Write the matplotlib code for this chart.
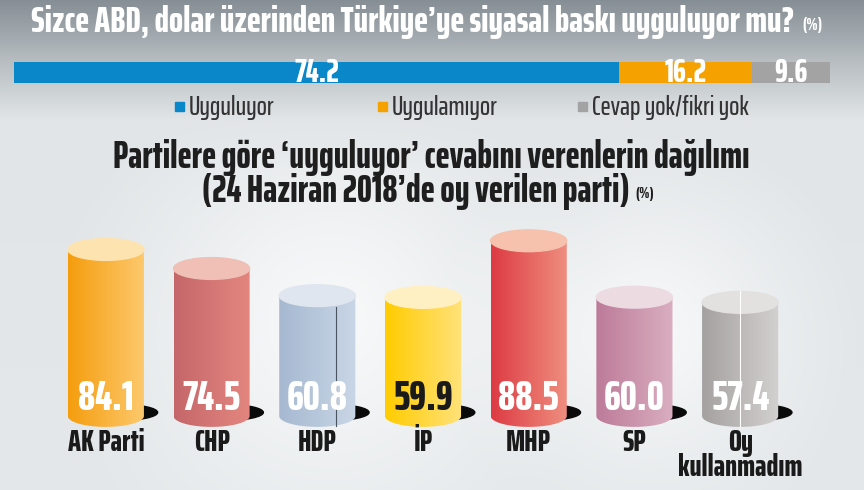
import numpy as np
import matplotlib
matplotlib.use('Agg')
import matplotlib.pyplot as plt
from matplotlib.patches import Ellipse, PathPatch, Rectangle
from matplotlib.path import Path

plt.rcParams['font.family'] = ['Saira ExtraCondensed', 'DejaVu Sans']
HEAVY = 800

# top question
answers = ['Uyguluyor', 'Uygulamıyor', 'Cevap yok/fikri yok']
answer_vals = [74.2, 16.2, 9.6]
answer_colors = ['#0a87c9', '#f5a100', '#a3a3a3']

# parties
parties = ['AK Parti', 'CHP', 'HDP', 'İP', 'MHP', 'SP', 'Oy\nkullanmadım']
party_vals = [84.1, 74.5, 60.8, 59.9, 88.5, 60.0, 57.4]
# left / right / top colours of each cylinder
cyl_left = ['#f59d0e', '#c5676a', '#a6b9d1', '#ffcc00', '#dd3b43', '#bd7b99', '#a5a1a1']
cyl_right = ['#fdc96e', '#e4867f', '#c9d6e6', '#ffe27a', '#ef8f80', '#d9aec0', '#d3d0d0']
cyl_top = ['#fde3b0', '#f0bfb6', '#dfe6ef', '#fff0c4', '#f6c2ad', '#eddbe2', '#e3e0e0']
val_colors = ['white', 'white', 'white', '#1a1a1a', 'white', 'white', 'white']

W, H = 864, 490
fig = plt.figure(figsize=(W / 100, H / 100), dpi=100)


def hex2rgb(h):
    return np.array([int(h[i:i + 2], 16) for i in (1, 3, 5)]) / 255.0


# background: dark band on top, light grey below with soft white glows
yy, xx = np.mgrid[0:H, 0:W].astype(float)
stops_y = [0, 60, 120, H]
stops_c = [hex2rgb('#858e94'), hex2rgb('#b6bcc0'), hex2rgb('#e1e5e7'), hex2rgb('#e4e8ea')]
bg = np.zeros((H, W, 3))
for k in range(3):
    bg[..., k] = np.interp(yy, stops_y, [c[k] for c in stops_c])
for gx, gy, R, a in [(330, 320, 270, 0.8), (650, 330, 210, 0.75)]:
    r = np.hypot(xx - gx, yy - gy)
    g = np.clip(1 - r / R, 0, 1) ** 1.1 * a * np.clip((yy - 110) / 60, 0, 1)
    bg = bg * (1 - g[..., None]) + g[..., None]

bax = fig.add_axes([0, 0, 1, 1])
bax.imshow(bg, extent=[0, W, H, 0], aspect='auto')
bax.set_xlim(0, W)
bax.set_ylim(H, 0)
bax.axis('off')

renderer = fig.canvas.get_renderer()


def fit(t, width_px):
    bb = t.get_window_extent(renderer)
    t.set_fontsize(t.get_fontsize() * width_px / bb.width)
    return t.get_fontsize()


def right_edge(t):
    return t.get_window_extent(renderer).x1


t = bax.text(31, 22, 'Sizce ABD, dolar üzerinden Türkiye’ye siyasal baskı uyguluyor mu?',
             color='white', fontsize=22, fontweight=HEAVY, ha='left', va='center')
fit(t, 763)
bax.text(right_edge(t) + 8, 25, '(%)', color='white', fontsize=12, fontweight=HEAVY,
         ha='left', va='center')

# stacked bar
sax = fig.add_axes([14 / W, 1 - 83 / H, 816 / W, 21 / H])
probe = sax.text(0, 0, '74.2', fontsize=17, fontweight=HEAVY)
bar_fs = fit(probe, 45)
probe.remove()
left = 0
for v, c in zip(answer_vals, answer_colors):
    sax.barh(0, v, left=left, color=c, height=1)
    sax.text(left + v / 2, 0.0, f'{v:.1f}', color='white', fontsize=bar_fs, fontweight=HEAVY,
             ha='center', va='center')
    left += v
sax.set_xlim(0, 100)
sax.set_ylim(-0.5, 0.5)
sax.axis('off')

# legend
probe = bax.text(0, 0, answers[0], fontsize=15, fontweight=500)
leg_fs = fit(probe, 85)
probe.remove()
for lx, lab, c in zip([175, 378, 578], answers, answer_colors):
    bax.add_patch(Rectangle((lx, 102), 9, 9, color=c))
    bax.text(lx + 14, 107, lab, color='#333333', fontsize=leg_fs, fontweight=500,
             ha='left', va='center')

t = bax.text(113, 157, 'Partilere göre ‘uyguluyor’ cevabını verenlerin dağılımı',
             color='#1e1e1e', fontsize=20, fontweight=HEAVY, ha='left', va='center')
fit(t, 638)
t = bax.text(202, 191, '(24 Haziran 2018’de oy verilen parti)',
             color='#1e1e1e', fontsize=20, fontweight=HEAVY, ha='left', va='center')
fit(t, 429)
bax.text(right_edge(t) + 6, 194, '(%)', color='#1e1e1e', fontsize=11, fontweight=HEAVY,
         ha='left', va='center')

# cylinders
px_per_unit = 1.98
zero_px = 416
ymin, ymax = -20, 100
ax = fig.add_axes([53 / W, 1 - (zero_px - ymin * px_per_unit) / H, 740 / W,
                   (ymax - ymin) * px_per_unit / H])
ax.set_xlim(-0.5, 6.5)
ax.set_ylim(ymin, ymax)
ax.axis('off')

probe = ax.text(0, 0, '84.1', fontsize=25, fontweight=HEAVY)
val_fs = fit(probe, 56)
probe.remove()
probe = ax.text(0, 0, parties[0], fontsize=16, fontweight=HEAVY)
cat_fs = fit(probe, 77)
probe.remove()

bw = 0.72
eh = 11.0
theta = np.linspace(np.pi, 2 * np.pi, 60)
for i, (name, v) in enumerate(zip(parties, party_vals)):
    x0, x1 = i - bw / 2, i + bw / 2
    # shadow
    ax.add_patch(Ellipse((i + 0.14, 1.8), 0.7, 8.0, color='#0a0a0a', zorder=1))
    # body with horizontal gradient, clipped to cylinder outline
    arc = np.column_stack([i + bw / 2 * np.cos(theta), eh / 2 * np.sin(theta)])
    verts = np.vstack([[x0, v], arc, [x1, v], [x0, v]])
    codes = [Path.MOVETO] + [Path.LINETO] * (len(verts) - 2) + [Path.CLOSEPOLY]
    patch = PathPatch(Path(verts, codes), facecolor='none', edgecolor='none', zorder=2)
    ax.add_patch(patch)
    grad = np.linspace(0, 1, 100)
    cl, cr = hex2rgb(cyl_left[i]), hex2rgb(cyl_right[i])
    img = (cl[None, :] * (1 - grad[:, None]) + cr[None, :] * grad[:, None])[None, :, :]
    im = ax.imshow(img, extent=[x0, x1, -eh / 2, v], aspect='auto', zorder=2,
                   interpolation='bilinear')
    im.set_clip_path(patch)
    # top cap
    ax.add_patch(Ellipse((i, v), bw, eh, color=cyl_top[i], zorder=3))
    ax.text(i, 9.3, f'{v:.1f}', color=val_colors[i], fontsize=val_fs, fontweight=HEAVY,
            ha='center', va='center', zorder=4)
    ax.text(i, -6.0, name, color='#1a1a1a', fontsize=cat_fs, fontweight=HEAVY,
            ha='center', va='top', linespacing=0.85, clip_on=False)

# thin seam lines on two cylinders
ax.plot([2 + 0.18, 2 + 0.18], [-eh / 2 + 0.5, party_vals[2] - eh / 2], color='#4a5460', lw=0.8, zorder=3)
ax.plot([6, 6], [-eh / 2, party_vals[6] + eh / 2], color='white', lw=0.8, zorder=3)

fig.savefig('out.png', dpi=100)
